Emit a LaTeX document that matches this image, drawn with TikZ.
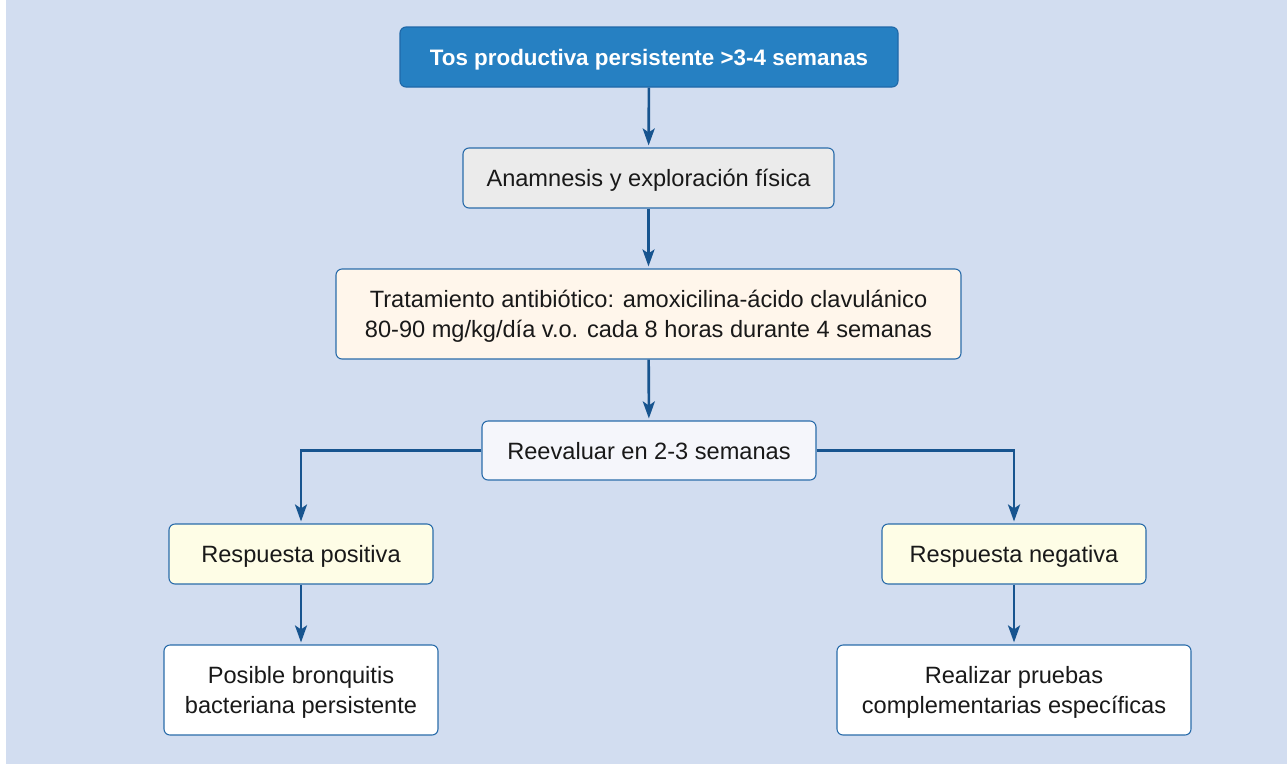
\documentclass[tikz,border=0pt]{standalone}
\usepackage{fontspec}
\setmainfont{Liberation Sans}
\usetikzlibrary{arrows.meta}
\definecolor{bgc}{HTML}{D2DDF0}
\definecolor{topc}{HTML}{2680C2}
\definecolor{topb}{HTML}{1F68A8}
\definecolor{bordc}{HTML}{2A6CAA}
\definecolor{arrc}{HTML}{17548F}
\definecolor{greyc}{HTML}{EBEBEB}
\definecolor{creamc}{HTML}{FFF6EB}
\definecolor{lavc}{HTML}{F5F6FB}
\definecolor{yelc}{HTML}{FEFDE6}
\newcommand{\myst}{\rule[-5pt]{0pt}{27pt}}
\tikzset{
  box/.style={draw=bordc, line width=1.1pt, rounded corners=6pt, inner sep=0pt, align=center,
    font=\fontsize{23.6}{30.5}\selectfont, text=black!90},
  arr/.style={draw=arrc, line width=2.6pt, shorten >=2pt, -{Stealth[length=17pt,width=12pt,inset=4pt]}},
}
\begin{document}
\begin{tikzpicture}[x=1pt,y=-1pt]
\useasboundingbox (0,0) rectangle (1287,764);
\fill[bgc] (6,0) rectangle (1287,764);
\node[box, fill=topc, draw=topb, text=white, font=\bfseries\fontsize{22.4}{30}\selectfont, minimum width=498pt, minimum height=60pt] (top) at (649,57) {\myst Tos productiva persistente >3-4 semanas};
\node[box, fill=greyc, minimum width=371pt, minimum height=60pt] (anam) at (648.5,178) {\myst Anamnesis y exploración física};
\node[box, fill=creamc, minimum width=625pt, minimum height=90pt] (trat) at (648.5,314) {\myst Tratamiento antibiótico: amoxicilina-ácido clavulánico\\\myst 80-90 mg/kg/día v.o. cada 8 horas durante 4 semanas};
\node[box, fill=lavc, minimum width=334pt, minimum height=59pt] (reev) at (649,450.5) {\myst Reevaluar en 2-3 semanas};
\node[box, fill=yelc, minimum width=264pt, minimum height=60pt] (pos) at (301,554) {\myst Respuesta positiva};
\node[box, fill=yelc, minimum width=264pt, minimum height=60pt] (neg) at (1014,554) {\myst Respuesta negativa};
\node[box, fill=white, minimum width=274pt, minimum height=90pt] (posb) at (301,690) {\myst Posible bronquitis\\\myst bacteriana persistente};
\node[box, fill=white, minimum width=354pt, minimum height=90pt] (real) at (1014,690) {\myst Realizar pruebas\\\myst complementarias específicas};
\draw[arr] (top) -- (anam);
\draw[arr] (anam) -- (trat);
\draw[arr] (trat) -- (reev);
\draw[arr] (reev.west) -| (pos.north);
\draw[arr] (reev.east) -| (neg.north);
\draw[arr] (pos) -- (posb);
\draw[arr] (neg) -- (real);
\end{tikzpicture}
\end{document}
